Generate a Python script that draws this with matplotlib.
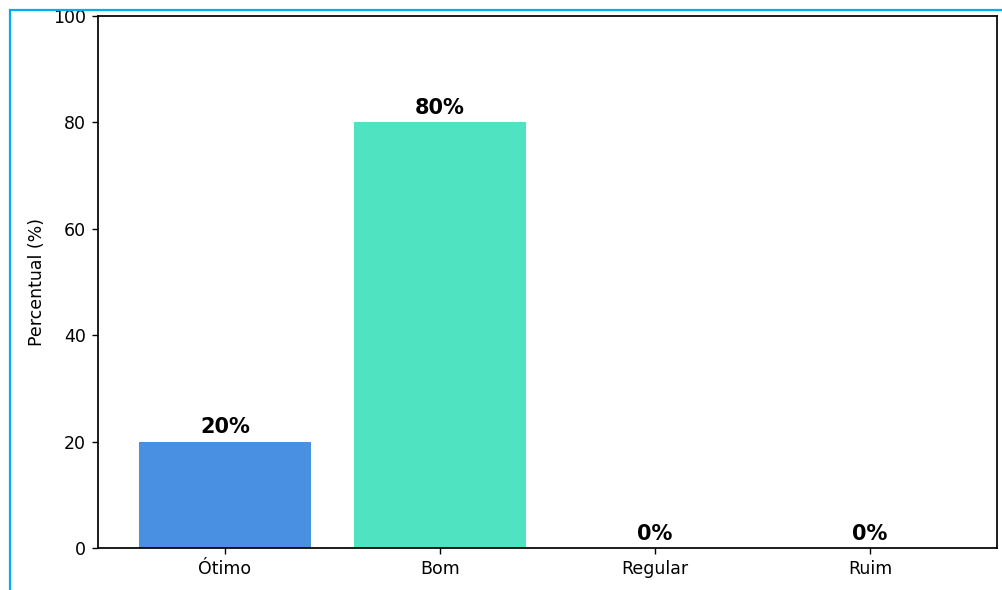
import matplotlib.pyplot as plt
from matplotlib.patches import Rectangle

# Avaliação
categorias = ['Ótimo', 'Bom', 'Regular', 'Ruim']
percentuais = [20, 80, 0, 0]
cores = ['#4A90E2', '#50E3C2', '#F5A623', '#D0021B']

plt.rcParams['font.size'] = 12.5
plt.rcParams['axes.linewidth'] = 1.25
plt.rcParams['xtick.major.size'] = 4.4
plt.rcParams['ytick.major.size'] = 4.4
plt.rcParams['xtick.major.width'] = 1.0
plt.rcParams['ytick.major.width'] = 1.0
plt.rcParams['xtick.major.pad'] = 4.4
plt.rcParams['ytick.major.pad'] = 4.4

fig = plt.figure(figsize=(10.03, 5.90), dpi=100)
ax = fig.add_axes([0.0977, 0.0712, 0.8963, 0.9017])

bars = ax.bar(categorias, percentuais, color=cores, width=0.8)
for bar, p in zip(bars, percentuais):
    ax.text(bar.get_x() + bar.get_width() / 2, bar.get_height() + 0.8, f'{p}%',
            ha='center', va='bottom', fontsize=15, fontweight='bold')

ax.set_ylim(0, 100)
ax.set_ylabel('Percentual (%)', labelpad=5)

# moldura azul da tela
fig.patches.append(Rectangle((10 / 1003, -0.1), 1.2, 1 - 10 / 590 + 0.1,
                             transform=fig.transFigure, fill=False,
                             edgecolor='#00AEEF', linewidth=1.6, clip_on=False))

fig.savefig('out.png', dpi=100)
